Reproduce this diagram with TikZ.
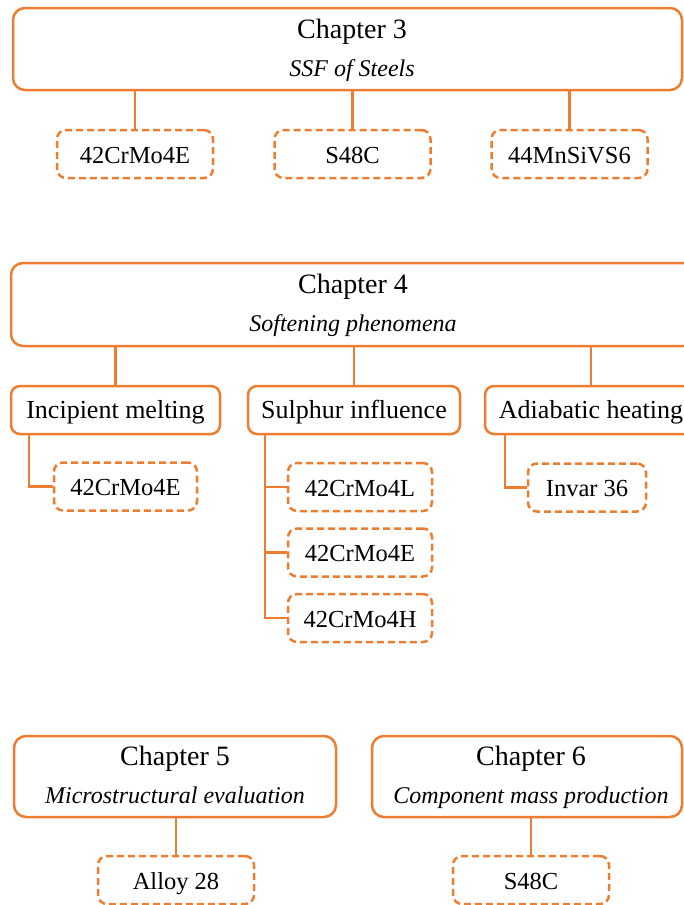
\documentclass[tikz,border=0pt]{standalone}
\usepackage{fontspec}
\setmainfont{Liberation Serif}
\definecolor{orf}{HTML}{ED7D31}
\begin{document}
\begin{tikzpicture}[x=1pt,y=-1pt,
  every node/.style={text=black, inner sep=0pt, align=center},
  chap/.style={draw=orf, line width=2.5pt, rounded corners=12pt},
  ttl/.style={font=\fontsize{28}{34}\selectfont, anchor=base},
  subt/.style={font=\fontsize{24}{29}\selectfont\itshape, anchor=base},
  topic/.style={draw=orf, line width=2.5pt, rounded corners=9pt, minimum height=48pt, font=\fontsize{26}{31}\selectfont, text height=16pt, text depth=0pt},
  mat/.style={draw=orf, line width=2.5pt, rounded corners=9pt, dash pattern=on 7pt off 4pt, minimum width=156pt, minimum height=48pt, font=\fontsize{24.5}{29}\selectfont, text height=18pt, text depth=0pt},
  conn/.style={draw=orf, line width=2.5pt}]
\useasboundingbox (0,0) rectangle (684,905);
\clip (0,0) rectangle (684,905);
% Chapter 3
\node[chap, minimum width=669pt, minimum height=82pt] (c3) at (347.5,49) {};
\node[ttl] (c3t) at (352,38.5) {Chapter 3};
\node[subt] (c3s) at (352,76.5) {SSF of Steels};
\node[mat] (a1) at (135,154) {42CrMo4E};
\node[mat] (a2) at (352.5,154) {S48C};
\node[mat] (a3) at (569.5,154) {44MnSiVS6};
\foreach \n in {a1,a2,a3} \draw[conn] (\n.north) -- (\n.north |- c3.south);
% Chapter 4
\node[chap, minimum width=684pt, minimum height=83pt] (c4) at (353,304.5) {};
\node[ttl] (c4t) at (353,293.5) {Chapter 4};
\node[subt] (c4s) at (353,331.5) {Softening phenomena};
\node[topic, minimum width=209pt] (inc) at (115.5,410) {Incipient melting};
\node[topic, minimum width=212pt] (sul) at (354,410) {Sulphur influence};
\node[topic, minimum width=212pt] (adi) at (591,410) {Adiabatic heating};
\foreach \n in {inc,sul,adi} \draw[conn] (\n.north) -- (\n.north |- c4.south);
\node[mat, minimum width=143pt] (b1) at (125.5,486.5) {42CrMo4E};
\node[mat, minimum width=144pt] (s1) at (360,487) {42CrMo4L};
\node[mat, minimum width=144pt] (s2) at (360,552.5) {42CrMo4E};
\node[mat, minimum width=144pt] (s3) at (360,618) {42CrMo4H};
\node[mat, minimum width=118pt] (d1) at (587,487.5) {Invar 36};
\draw[conn] ([xshift=19pt]inc.south west) |- (b1.west);
\draw[conn] ([xshift=18pt]sul.south west) coordinate (t) |- (s3.west);
\draw[conn] (s1.west) -- (s1.west -| t);
\draw[conn] (s2.west) -- (s2.west -| t);
\draw[conn] ([xshift=21pt]adi.south west) |- (d1.west);
% Chapter 5 and 6
\node[chap, minimum width=322pt, minimum height=81pt] (c5) at (175,776.5) {};
\node[ttl] (c5t) at (175,765.5) {Chapter 5};
\node[subt] (c5s) at (175,803.5) {Microstructural evaluation};
\node[chap, minimum width=310pt, minimum height=81pt] (c6) at (527,776.5) {};
\node[ttl] (c6t) at (531,765.5) {Chapter 6};
\node[subt] (c6s) at (531,803.5) {Component mass production};
\node[mat] (e1) at (176,880) {Alloy 28};
\node[mat] (f1) at (531,880) {S48C};
\draw[conn] (e1.north) -- (e1.north |- c5.south);
\draw[conn] (f1.north) -- (f1.north |- c6.south);
\end{tikzpicture}
\end{document}
